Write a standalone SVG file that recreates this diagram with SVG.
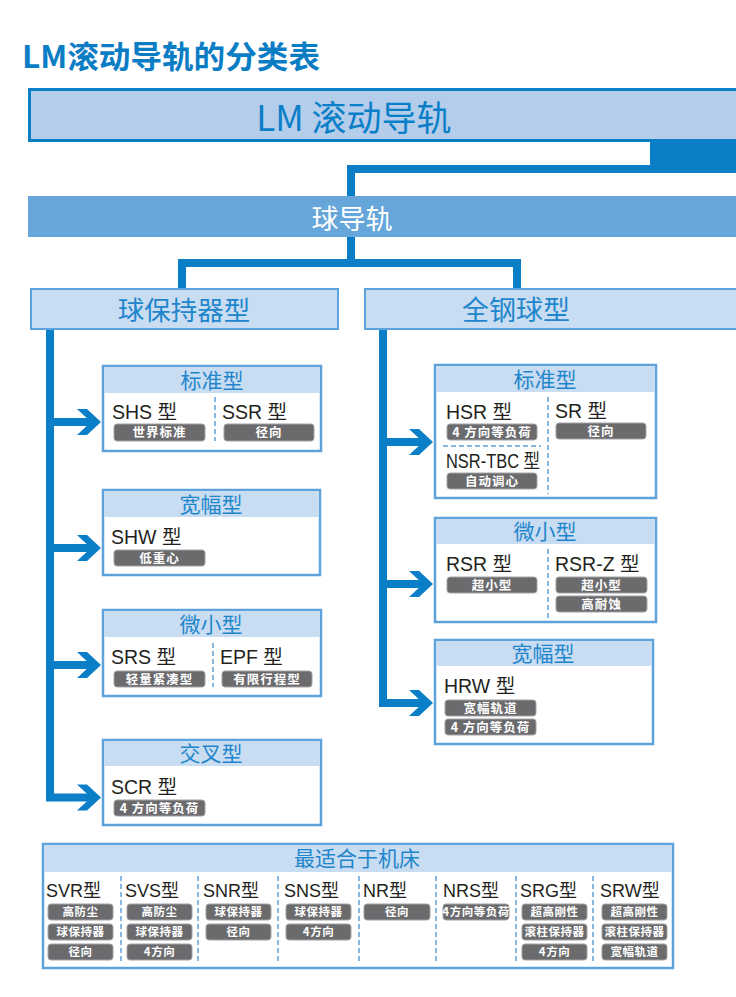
<svg xmlns="http://www.w3.org/2000/svg" xmlns:xlink="http://www.w3.org/1999/xlink" width="736" height="997" viewBox="0 0 736 997">
<style>
.cjk{font-family:"Noto Sans CJK SC","Noto Sans",sans-serif}
.hdr{font-family:"Noto Sans CJK SC",sans-serif;font-size:21px;fill:#1f86cc;text-anchor:middle}
.lbl{font-family:"Liberation Sans","Noto Sans CJK SC",sans-serif;font-size:19.5px;fill:#231f20}
.blbl{font-family:"Liberation Sans","Noto Sans CJK SC",sans-serif;font-size:18px;fill:#231f20}
.tag{fill:#6b6b6e;stroke:#a3a3a6;stroke-width:1}
.tt{font-family:"Noto Sans CJK SC",sans-serif;font-size:12.5px;font-weight:bold;fill:#ffffff;text-anchor:middle;letter-spacing:1px}
.btt{font-family:"Noto Sans CJK SC",sans-serif;font-size:11.5px;font-weight:bold;fill:#ffffff;text-anchor:middle;letter-spacing:0.5px}
.box{fill:#ffffff;stroke:#5da2dc;stroke-width:2.5}
.band{fill:#c8dcf2}
.dv{stroke:#5da2dc;stroke-width:1.5;stroke-dasharray:5 3;fill:none}
.ln{fill:none;stroke:#0a7fc8;stroke-width:8;stroke-linejoin:miter;stroke-linecap:butt}
.chev{fill:#0a7fc8}
</style>
<defs>
<path id="chev" d="M-24 -13 H-14 L0 0 L-14 13 H-24 L-10 0 Z"/>
</defs>
<rect width="736" height="997" fill="#ffffff"/>

<text id="title" x="22" y="68" font-family="Noto Sans CJK SC, sans-serif" font-size="31" font-weight="bold" fill="#0b7dc5" textLength="298" lengthAdjust="spacingAndGlyphs">LM滚动导轨的分类表</text>

<g id="connectors">
  <rect x="650" y="140" width="86" height="33" fill="#0a7fc8"/>
  <path class="ln" d="M736 169 H351 V196"/>
  <path class="ln" d="M351 237 V263"/>
  <path class="ln" d="M182 289 V263 H517 V289"/>
  <path class="ln" d="M50 330 V797.5 H91"/>
  <path class="ln" d="M50 422 H91 M50 548 H91 M50 665 H91"/>
  <use xlink:href="#chev" href="#chev" class="chev" x="101" y="422"/>
  <use xlink:href="#chev" href="#chev" class="chev" x="101" y="548"/>
  <use xlink:href="#chev" href="#chev" class="chev" x="101" y="665"/>
  <use xlink:href="#chev" href="#chev" class="chev" x="101" y="797.5"/>
  <path class="ln" d="M383 330 V703 H423"/>
  <path class="ln" d="M383 442 H423 M383 584 H423"/>
  <use xlink:href="#chev" href="#chev" class="chev" x="433" y="442"/>
  <use xlink:href="#chev" href="#chev" class="chev" x="433" y="584"/>
  <use xlink:href="#chev" href="#chev" class="chev" x="433" y="703"/>
</g>

<g id="lm-root">
  <rect x="29.5" y="89.5" width="720" height="51" fill="#b3cdeb" stroke="#0a7fc8" stroke-width="3"/>
  <text x="354" y="131" class="cjk" font-size="35" fill="#0a7fc8" text-anchor="middle">LM 滚动导轨</text>
</g>

<g id="ball-rail">
  <rect x="28" y="196" width="708" height="41" fill="#66a6da"/>
  <text x="352" y="229" class="cjk" font-size="27" fill="#ffffff" text-anchor="middle">球导轨</text>
</g>

<g id="ball-retainer">
  <rect x="31" y="289" width="307" height="40" fill="#c8dcf2" stroke="#5da2dc" stroke-width="2"/>
  <text x="184" y="320" class="cjk" font-size="26.5" fill="#1f86cc" text-anchor="middle">球保持器型</text>
</g>

<g id="full-ball">
  <rect x="365" y="289" width="380" height="40" fill="#c8dcf2" stroke="#5da2dc" stroke-width="2"/>
  <text x="516" y="320" class="cjk" font-size="27" fill="#1f86cc" text-anchor="middle">全钢球型</text>
</g>

<g id="l-standard">
  <rect class="box" x="103" y="366" width="218" height="85"/>
  <rect class="band" x="104.25" y="367.25" width="215.5" height="25.75"/>
  <text class="hdr" x="212" y="387.5">标准型</text>
  <line class="dv" x1="215" y1="397" x2="215" y2="441"/>
  <text class="lbl" x="112" y="419">SHS 型</text>
  <rect class="tag" x="114" y="424" width="91" height="17" rx="3"/>
  <text class="tt" x="159.5" y="437.3">世界标准</text>
  <text class="lbl" x="222" y="419">SSR 型</text>
  <rect class="tag" x="224" y="424" width="90" height="17" rx="3"/>
  <text class="tt" x="269" y="437.3">径向</text>
</g>

<g id="l-wide">
  <rect class="box" x="103" y="490" width="217" height="85"/>
  <rect class="band" x="104.25" y="491.25" width="214.5" height="25.75"/>
  <text class="hdr" x="211" y="511.5">宽幅型</text>
  <text class="lbl" x="111" y="544">SHW 型</text>
  <rect class="tag" x="114" y="550" width="91" height="16" rx="3"/>
  <text class="tt" x="159.5" y="562.5">低重心</text>
</g>

<g id="l-mini">
  <rect class="box" x="103" y="610" width="218" height="86"/>
  <rect class="band" x="104.25" y="611.25" width="215.5" height="25.75"/>
  <text class="hdr" x="211" y="631.5">微小型</text>
  <line class="dv" x1="213" y1="643" x2="213" y2="687"/>
  <text class="lbl" x="111" y="664">SRS 型</text>
  <rect class="tag" x="114" y="671" width="91" height="16" rx="3"/>
  <text class="tt" x="159.5" y="683.5">轻量紧凑型</text>
  <text class="lbl" x="220" y="664">EPF 型</text>
  <rect class="tag" x="222" y="671" width="90" height="16" rx="3"/>
  <text class="tt" x="267" y="683.5">有限行程型</text>
</g>

<g id="l-cross">
  <rect class="box" x="103" y="740" width="218" height="85"/>
  <rect class="band" x="104.25" y="741.25" width="215.5" height="24.75"/>
  <text class="hdr" x="211" y="761">交叉型</text>
  <text class="lbl" x="111" y="794">SCR 型</text>
  <rect class="tag" x="114" y="800" width="91" height="16" rx="3"/>
  <text class="tt" x="159.5" y="812.5">4 方向等负荷</text>
</g>

<g id="r-standard">
  <rect class="box" x="435" y="365" width="221" height="133"/>
  <rect class="band" x="436.25" y="366.25" width="218.5" height="25.75"/>
  <text class="hdr" x="545" y="386.5">标准型</text>
  <line class="dv" x1="548" y1="397" x2="548" y2="494"/>
  <line class="dv" x1="443" y1="446" x2="541" y2="446"/>
  <text class="lbl" x="446" y="418.5">HSR 型</text>
  <rect class="tag" x="447" y="424" width="90" height="16" rx="3"/>
  <text class="tt" x="492" y="436.5">4 方向等负荷</text>
  <text class="lbl" x="446" y="467.5" textLength="94" lengthAdjust="spacingAndGlyphs">NSR-TBC 型</text>
  <rect class="tag" x="447" y="473" width="90" height="16" rx="3"/>
  <text class="tt" x="492" y="485.5">自动调心</text>
  <text class="lbl" x="555" y="418">SR 型</text>
  <rect class="tag" x="556" y="423" width="90" height="16" rx="3"/>
  <text class="tt" x="601" y="435.5">径向</text>
</g>

<g id="r-mini">
  <rect class="box" x="435" y="518" width="221" height="104"/>
  <rect class="band" x="436.25" y="519.25" width="218.5" height="24.75"/>
  <text class="hdr" x="545" y="539">微小型</text>
  <line class="dv" x1="548" y1="549" x2="548" y2="618"/>
  <text class="lbl" x="446" y="571">RSR 型</text>
  <rect class="tag" x="447" y="577" width="90" height="16" rx="3"/>
  <text class="tt" x="492" y="589.5">超小型</text>
  <text class="lbl" x="555" y="571">RSR-Z 型</text>
  <rect class="tag" x="556" y="577" width="91" height="16" rx="3"/>
  <text class="tt" x="601.5" y="589.5">超小型</text>
  <rect class="tag" x="556" y="596" width="91" height="16" rx="3"/>
  <text class="tt" x="601.5" y="608.5">高耐蚀</text>
</g>

<g id="r-wide">
  <rect class="box" x="435" y="640" width="218" height="104"/>
  <rect class="band" x="436.25" y="641.25" width="215.5" height="24.75"/>
  <text class="hdr" x="543" y="661">宽幅型</text>
  <text class="lbl" x="444" y="693">HRW 型</text>
  <rect class="tag" x="445" y="700" width="91" height="16" rx="3"/>
  <text class="tt" x="490.5" y="712.5">宽幅轨道</text>
  <rect class="tag" x="445" y="719" width="91" height="16" rx="3"/>
  <text class="tt" x="490.5" y="731.5">4 方向等负荷</text>
</g>

<g id="machine-tool">
  <rect class="box" x="43" y="844" width="630" height="124"/>
  <rect class="band" x="44.25" y="845.25" width="627.5" height="26.75"/>
  <text class="hdr" x="357" y="865.5">最适合于机床</text>
  <path class="dv" d="M121 876 V964 M198 876 V964 M278 876 V964 M359 876 V964 M436 876 V964 M516 876 V964 M593 876 V964"/>

  <text class="blbl" x="46" y="897">SVR型</text>
  <rect class="tag" x="48" y="904" width="65" height="16" rx="3"/><text class="btt" x="80.5" y="916.4">高防尘</text>
  <rect class="tag" x="48" y="924" width="65" height="16" rx="3"/><text class="btt" x="80.5" y="936.4">球保持器</text>
  <rect class="tag" x="48" y="944" width="65" height="16" rx="3"/><text class="btt" x="80.5" y="956.4">径向</text>

  <text class="blbl" x="125" y="897">SVS型</text>
  <rect class="tag" x="127" y="904" width="65" height="16" rx="3"/><text class="btt" x="159.5" y="916.4">高防尘</text>
  <rect class="tag" x="127" y="924" width="65" height="16" rx="3"/><text class="btt" x="159.5" y="936.4">球保持器</text>
  <rect class="tag" x="127" y="944" width="65" height="16" rx="3"/><text class="btt" x="159.5" y="956.4">4方向</text>

  <text class="blbl" x="203" y="897">SNR型</text>
  <rect class="tag" x="206" y="904" width="65" height="16" rx="3"/><text class="btt" x="238.5" y="916.4">球保持器</text>
  <rect class="tag" x="206" y="924" width="65" height="16" rx="3"/><text class="btt" x="238.5" y="936.4">径向</text>

  <text class="blbl" x="284" y="897">SNS型</text>
  <rect class="tag" x="286" y="904" width="65" height="16" rx="3"/><text class="btt" x="318.5" y="916.4">球保持器</text>
  <rect class="tag" x="286" y="924" width="65" height="16" rx="3"/><text class="btt" x="318.5" y="936.4">4方向</text>

  <text class="blbl" x="363" y="897">NR型</text>
  <rect class="tag" x="364" y="904" width="66" height="16" rx="3"/><text class="btt" x="397" y="916.4">径向</text>

  <text class="blbl" x="443" y="897">NRS型</text>
  <rect class="tag" x="443" y="904" width="66" height="16" rx="3"/><text class="btt" x="476" y="916" font-size="10.5" letter-spacing="0">4方向等负荷</text>

  <text class="blbl" x="520" y="897">SRG型</text>
  <rect class="tag" x="522" y="904" width="65" height="16" rx="3"/><text class="btt" x="554.5" y="916.4">超高刚性</text>
  <rect class="tag" x="522" y="924" width="65" height="16" rx="3"/><text class="btt" x="554.5" y="936.4" font-size="11" letter-spacing="0">滚柱保持器</text>
  <rect class="tag" x="522" y="944" width="65" height="16" rx="3"/><text class="btt" x="554.5" y="956.4">4方向</text>

  <text class="blbl" x="600" y="897">SRW型</text>
  <rect class="tag" x="602" y="904" width="65" height="16" rx="3"/><text class="btt" x="634.5" y="916.4">超高刚性</text>
  <rect class="tag" x="602" y="924" width="65" height="16" rx="3"/><text class="btt" x="634.5" y="936.4" font-size="11" letter-spacing="0">滚柱保持器</text>
  <rect class="tag" x="602" y="944" width="65" height="16" rx="3"/><text class="btt" x="634.5" y="956.4">宽幅轨道</text>
</g>
</svg>
